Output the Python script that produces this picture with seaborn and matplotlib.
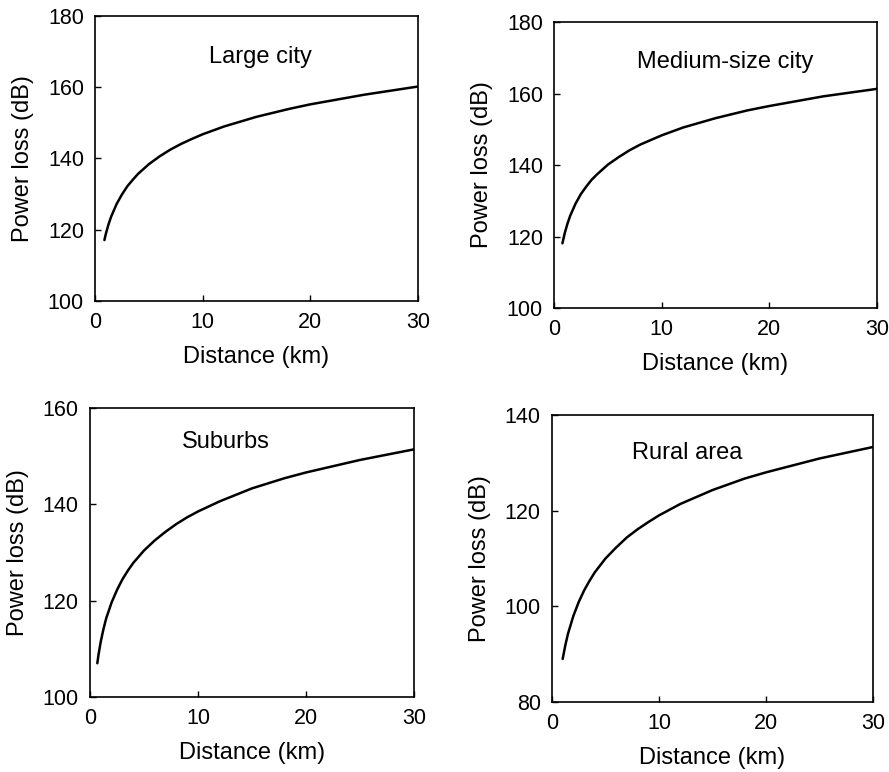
import matplotlib
matplotlib.use("Agg")
import matplotlib.pyplot as plt
import seaborn as sns
import pandas as pd

# ---- data ----
dist_large = [0.87, 1.0, 1.25, 1.5, 2, 2.5, 3, 3.5, 4, 5, 6, 7, 8, 9, 10, 12, 15, 18, 20, 25, 30]
loss_large = [117.1, 118.8, 121.5, 123.7, 127.2, 129.9, 132.2, 134.0, 135.7, 138.4, 140.6,
              142.5, 144.1, 145.5, 146.8, 149.0, 151.7, 153.9, 155.2, 157.9, 160.2]

dist_medium = [0.78, 1.0, 1.25, 1.5, 2, 2.5, 3, 3.5, 4, 5, 6, 7, 8, 9, 10, 12, 15, 18, 20, 25, 30]
loss_medium = [118.1, 121.0, 123.6, 125.8, 129.2, 131.9, 134.0, 135.9, 137.4, 140.1, 142.2,
               144.1, 145.7, 147.0, 148.3, 150.5, 153.1, 155.3, 156.5, 159.2, 161.3]

dist_suburbs = [0.68, 0.8, 1.0, 1.25, 1.5, 2, 2.5, 3, 3.5, 4, 5, 6, 7, 8, 9, 10, 12, 15, 18,
                20, 25, 30]
loss_suburbs = [107.0, 108.9, 111.5, 114.1, 116.3, 119.6, 122.2, 124.4, 126.2, 127.8, 130.4,
                132.5, 134.3, 135.9, 137.3, 138.5, 140.6, 143.3, 145.4, 146.6, 149.2, 151.4]

dist_rural = [1.0, 1.25, 1.5, 2, 2.5, 3, 3.5, 4, 5, 6, 7, 8, 9, 10, 12, 15, 18, 20, 25, 30]
loss_rural = [89.0, 91.9, 94.3, 98.0, 100.9, 103.3, 105.3, 107.1, 110.0, 112.3, 114.4, 116.1,
              117.6, 119.0, 121.4, 124.3, 126.7, 128.0, 130.9, 133.3]

panel_titles = ["Large city", "Medium-size city", "Suburbs", "Rural area"]
y_ranges = [(100, 180), (100, 180), (100, 160), (80, 140)]
x_ticks = [0, 10, 20, 30]

sns.set_style("ticks")
plt.rcParams["font.family"] = ["Liberation Sans", "DejaVu Sans"]
plt.rcParams["text.color"] = "black"
plt.rcParams["axes.labelcolor"] = "black"

fig = plt.figure(figsize=(8.89, 7.72), dpi=100)

positions = [
    [0.1069, 0.6101, 0.3633, 0.3692],
    [0.6232, 0.6010, 0.3633, 0.3705],
    [0.1012, 0.0972, 0.3645, 0.3744],
    [0.6209, 0.0907, 0.3611, 0.3718],
]
label_pos = [(0.511, 0.856), (0.529, 0.860), (0.42, 0.882), (0.42, 0.868)]

datasets = [(dist_large, loss_large), (dist_medium, loss_medium),
            (dist_suburbs, loss_suburbs), (dist_rural, loss_rural)]

for i, ((d, l), title, yr) in enumerate(zip(datasets, panel_titles, y_ranges)):
    ax = fig.add_axes(positions[i])
    df = pd.DataFrame({"Distance (km)": d, "Power loss (dB)": l})
    sns.lineplot(data=df, x="Distance (km)", y="Power loss (dB)", ax=ax,
                 color="black", linewidth=1.8)
    ax.set_xlim(0, 30)
    ax.set_ylim(*yr)
    ax.set_xticks(x_ticks)
    ax.set_yticks(list(range(yr[0], yr[1] + 1, 20)))
    ax.tick_params(direction="in", length=4, width=1.0, labelsize=15.5, pad=8,
                   colors="black")
    ax.set_xlabel("Distance (km)", fontsize=17, labelpad=9, color="black")
    ax.set_ylabel("Power loss (dB)", fontsize=17, labelpad=10, color="black")
    for sp in ax.spines.values():
        sp.set_visible(True)
        sp.set_linewidth(1.2)
        sp.set_color("black")
    ax.text(label_pos[i][0], label_pos[i][1], title, transform=ax.transAxes,
            ha="center", va="center", fontsize=17, color="black")

fig.savefig("out.png", dpi=100)
